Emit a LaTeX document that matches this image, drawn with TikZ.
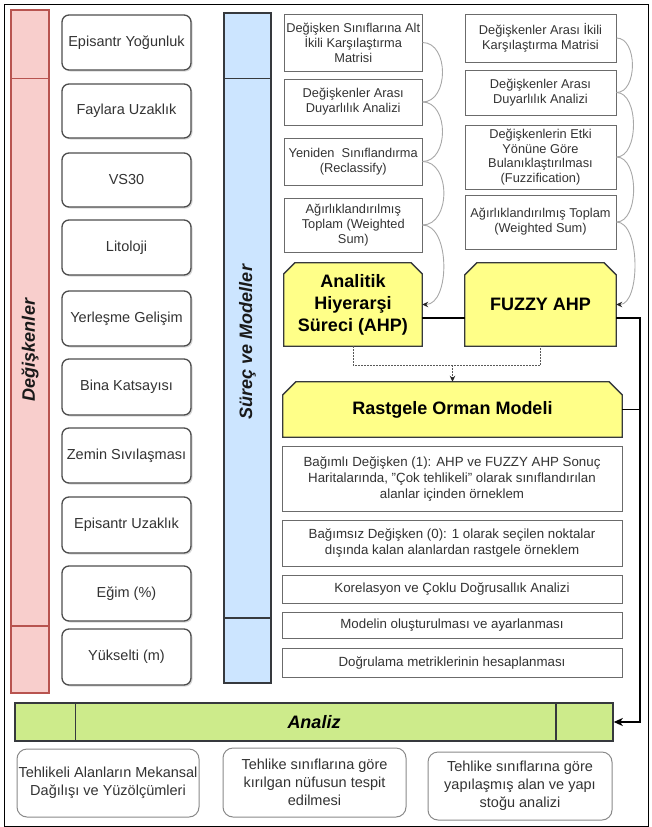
\documentclass[tikz,border=0pt]{standalone}
\usepackage{fontspec}
\setmainfont{Liberation Sans}
\usetikzlibrary{arrows.meta,shadows,backgrounds,calc}
\definecolor{redfill}{HTML}{F8CECC}
\definecolor{redline}{HTML}{B85450}
\definecolor{bluefill}{HTML}{CCE5FF}
\definecolor{darkline}{HTML}{36393D}
\definecolor{greenfill}{HTML}{CDEB8B}
\definecolor{yfill}{HTML}{FFFF88}
\definecolor{lgray}{HTML}{4D4D4D}
\definecolor{bgray}{HTML}{6B6B6B}
\definecolor{dgray}{HTML}{8A8A8A}
\definecolor{cgray}{HTML}{A8A8A8}
\definecolor{txt}{HTML}{333333}
\tikzset{
  lbox/.style={draw=lgray, line width=1.3pt, rounded corners=7pt, fill=white,
    drop shadow={opacity=0.3,shadow xshift=1.5pt,shadow yshift=-1.5pt},
    minimum width=129pt, inner sep=0pt, align=center, text=txt,
    font=\fontsize{14.5}{17}\selectfont},
  abox/.style={draw=bgray, line width=1pt, fill=white, inner sep=0pt, align=center,
    text=txt, font=\fontsize{12.8}{15}\selectfont, minimum width=137.5pt},
  bbox/.style={abox, minimum width=151pt},
  cbox/.style={abox, minimum width=340pt, font=\fontsize{13.3}{16}\selectfont},
  dbox/.style={draw=dgray, line width=1pt, rounded corners=10pt, fill=white,
    inner sep=0pt, align=center, text=txt, font=\fontsize{14.5}{18}\selectfont},
  ybox/.style={inner sep=0pt, align=center, text=black,
    font=\fontsize{18}{22}\selectfont\bfseries},
  lanebox/.style={line width=1.5pt, inner sep=0pt},
  lanelabel/.style={font=\fontsize{18}{22}\selectfont\bfseries\itshape, rotate=90, text=black!90},
  curvelink/.style={draw=cgray, line width=0.9pt},
  curvetip/.style={curvelink, -{Stealth[length=6pt,width=5.5pt,color=black!85]}},
  blk/.style={draw=black, line width=1.6pt},
  dotline/.style={draw=black!65, line width=0.9pt, dash pattern=on 1.5pt off 1.5pt},
}
\begin{document}
\begin{tikzpicture}[x=1pt,y=-1pt]
\useasboundingbox (0,0) rectangle (651,827);
\draw[line width=1pt, black] (4,4) rectangle (648,826);

% lanes
\node[lanebox, draw=redline, fill=redfill, minimum width=38pt, minimum height=683pt] (redlane) at (30,351.5) {};
\draw[redline, line width=1.5pt] ([yshift=-69pt]redlane.north west) -- ([yshift=-69pt]redlane.north east);
\draw[redline, line width=1.5pt] ([yshift=68pt]redlane.south west) -- ([yshift=68pt]redlane.south east);
\node[lanelabel] (redlabel) at (30,350) {Değişkenler};

\node[lanebox, draw=darkline, fill=bluefill, minimum width=47pt, minimum height=670pt] (bluelane) at (247.5,348) {};
\draw[darkline, line width=1.5pt] ([yshift=-66pt]bluelane.north west) -- ([yshift=-66pt]bluelane.north east);
\draw[darkline, line width=1.5pt] ([yshift=66pt]bluelane.south west) -- ([yshift=66pt]bluelane.south east);
\node[lanelabel] (bluelabel) at (247.5,342) {Süreç ve Modeller};

% variables
\node[lbox, minimum height=55pt] (v1) at (126.5,42.5) {Episantr Yoğunluk};
\node[lbox, minimum height=54pt] (v2) at (126.5,111) {Faylara Uzaklık};
\node[lbox, minimum height=54pt] (v3) at (126.5,180) {VS30};
\node[lbox, minimum height=55pt] (v4) at (126.5,247.5) {Litoloji};
\node[lbox, minimum height=55pt] (v5) at (126.5,318.5) {Yerleşme Gelişim};
\node[lbox, minimum height=56pt] (v6) at (126.5,387) {Bina Katsayısı};
\node[lbox, minimum height=55pt] (v7) at (126.5,455.5) {Zemin Sıvılaşması};
\node[lbox, minimum height=56pt] (v8) at (126.5,525) {Episantr Uzaklık};
\node[lbox, minimum height=55pt] (v9) at (126.5,593.5) {Eğim (\%)};
\node[lbox, minimum height=56pt] (v10) at (126.5,657) {Yükselti (m)};

% AHP steps
\node[abox, minimum height=57pt] (a1) at (353.25,42.5) {Değişken Sınıflarına Alt\\İkili Karşılaştırma\\Matrisi};
\node[abox, minimum height=46pt] (a2) at (353.25,102) {Değişkenler Arası\\Duyarlılık Analizi};
\node[abox, minimum height=47pt] (a3) at (353.25,161.5) {Yeniden~ Sınıflandırma\\(Reclassify)};
\node[abox, minimum height=54pt] (a4) at (353.25,225) {Ağırlıklandırılmış\\Toplam (Weighted\\Sum)};

% FUZZY AHP steps
\node[bbox, minimum height=48pt] (b1) at (540.5,38) {Değişkenler Arası İkili\\Karşılaştırma Matrisi};
\node[bbox, minimum height=45pt] (b2) at (540.5,92.5) {Değişkenler Arası\\Duyarlılık Analizi};
\node[bbox, minimum height=64pt, font=\fontsize{12.8}{14.5}\selectfont] (b3) at (540.5,157) {Değişkenlerin Etki\\Yönüne Göre\\Bulanıklaştırılması\\(Fuzzification)};
\node[bbox, minimum height=54pt] (b4) at (540.5,222) {Ağırlıklandırılmış Toplam\\(Weighted Sum)};

% yellow models
\node[ybox, minimum width=138pt, minimum height=83pt] (ahp) at (353,304.5) {Analitik\\Hiyerarşi\\Süreci (AHP)};
\node[ybox, minimum width=151pt, minimum height=83pt] (fuzzy) at (540.5,304.5) {FUZZY AHP};
\node[ybox, minimum width=339pt, minimum height=55pt] (rom) at (452.5,409.5) {Rastgele Orman Modeli};

\begin{pgfonlayer}{background}
\fill[white] (0,0) rectangle (651,827);
\foreach \nn/\cc in {ahp/11,fuzzy/12,rom/13}{
  \filldraw[fill=yfill, draw=darkline, line width=1.3pt]
    ([yshift=-\cc pt]\nn.north west) -- ([xshift=\cc pt]\nn.north west)
    -- ([xshift=-\cc pt]\nn.north east) -- ([yshift=-\cc pt]\nn.north east)
    -- (\nn.south east) -- (\nn.south west) -- cycle;
}
\end{pgfonlayer}

% random forest steps
\node[cbox, minimum height=65pt] (c1) at (452,478.5) {Bağımlı Değişken (1): AHP ve FUZZY AHP Sonuç\\Haritalarında, "Çok tehlikeli" olarak sınıflandırılan\\alanlar içinden örneklem};
\node[cbox, minimum height=46pt] (c2) at (452,543) {Bağımsız Değişken (0): 1 olarak seçilen noktalar\\dışında kalan alanlardan rastgele örneklem};
\node[cbox, minimum height=28pt] (c3) at (452,589) {Korelasyon ve Çoklu Doğrusallık Analizi};
\node[cbox, minimum height=26pt] (c4) at (452,625) {Modelin oluşturulması ve ayarlanması};
\node[cbox, minimum height=29pt] (c5) at (452,662.5) {Doğrulama metriklerinin hesaplanması};

% analysis bar
\node[draw=darkline, line width=1.5pt, fill=greenfill, minimum width=598pt, minimum height=38pt, inner sep=0pt,
  font=\fontsize{18}{22}\selectfont\bfseries\itshape] (analiz) at (314,722) {Analiz};
\draw[darkline, line width=1.5pt] ([xshift=61pt]analiz.north west) -- ([xshift=61pt]analiz.south west);
\draw[darkline, line width=1.5pt] ([xshift=-58pt]analiz.north east) -- ([xshift=-58pt]analiz.south east);

% outputs
\node[dbox, minimum width=182pt, minimum height=68pt] (d1) at (108,783) {Tehlikeli Alanların Mekansal\\Dağılışı ve Yüzölçümleri};
\node[dbox, minimum width=183pt, minimum height=69pt] (d2) at (314.5,782.5) {Tehlike sınıflarına göre\\kırılgan nüfusun tespit\\edilmesi};
\node[dbox, minimum width=184pt, minimum height=68pt] (d3) at (520,786) {Tehlike sınıflarına göre\\yapılaşmış alan ve yapı\\stoğu analizi};

% curly links
\draw[curvelink] (a1.east) to[out=0,in=0,looseness=1.15] (a2.east);
\draw[curvelink] (a2.east) to[out=0,in=0,looseness=1.15] (a3.east);
\draw[curvelink] (a3.east) to[out=0,in=0,looseness=1.15] (a4.east);
\draw[curvetip] (a4.east) to[out=0,in=0,looseness=0.9] (ahp.east);
\draw[curvelink] (b1.east) to[out=0,in=0,looseness=1] (b2.east);
\draw[curvelink] (b2.east) to[out=0,in=0,looseness=0.9] (b3.east);
\draw[curvelink] (b3.east) to[out=0,in=0,looseness=0.9] (b4.east);
\draw[curvetip] (b4.east) to[out=0,in=0,looseness=0.75] (fuzzy.east);

% model connections
\draw[blk] ([yshift=-13.5pt]ahp.east) -- ([yshift=-13.5pt]fuzzy.west);
\coordinate (turn1) at (640,318);
\draw[blk, -{Stealth[length=9pt,width=8pt,inset=2.5pt]}] ([yshift=-13.5pt]fuzzy.east) -- (turn1) -- (turn1 |- analiz.east) -- (analiz.east);
\draw[blk] (rom.east) -- (turn1 |- rom.east);
\coordinate (dj) at ($(ahp.south)+(0,19)$);
\draw[dotline] (ahp.south) -- (dj) -| (fuzzy.south);
\draw[dotline, -{Stealth[length=6pt,width=5.5pt,color=black!85]}] (rom.north |- dj) -- (rom.north);
\end{tikzpicture}
\end{document}
